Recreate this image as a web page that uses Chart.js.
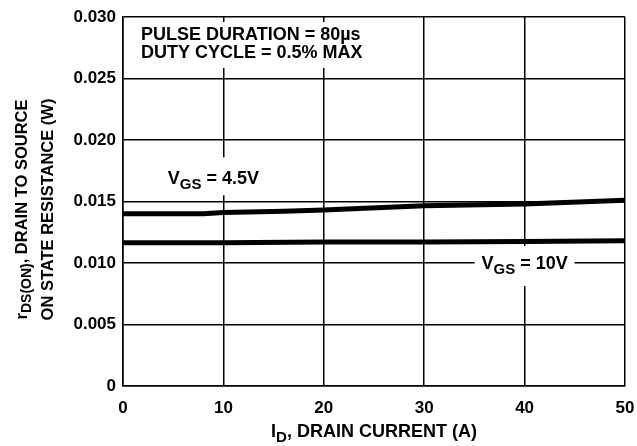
<!DOCTYPE html>
<html>
<head>
<meta charset="utf-8">
<script src="https://cdn.jsdelivr.net/npm/chart.js@4"></script>
<style>
    html, body { margin: 0; padding: 0; background: #fff; }
    #wrap { width: 637px; height: 446px; }
</style>
</head>
<body>
<div id="wrap"><canvas id="rdsChart" width="637" height="446"></canvas></div>
<script>
// drain current (A)
const currentA = [0, 8, 10, 16, 20, 30, 40, 50];
const rds45 = [0.0140, 0.0140, 0.0141, 0.0142, 0.0143, 0.01465, 0.0148, 0.0151];
const current10 = [0, 10, 20, 30, 40, 50];
const rds10 = [0.01165, 0.01165, 0.0117, 0.0117, 0.01175, 0.0118];
const xTicks = [0, 10, 20, 30, 40, 50];
const yTicks = [0, 0.005, 0.010, 0.015, 0.020, 0.025, 0.030];

const FONT = '"Liberation Sans", Arial, sans-serif';

// draw text made of pieces, some of them subscript
function drawParts(ctx, parts, x, y, size, align) {
    const subSize = Math.round(size * 0.82);
    let total = 0;
    parts.forEach(p => {
        ctx.font = 'bold ' + (p.sub ? subSize : size) + 'px ' + FONT;
        total += ctx.measureText(p.t).width;
    });
    let cx = align === 'left' ? x : x - total / 2;
    ctx.textBaseline = 'middle';
    ctx.textAlign = 'left';
    parts.forEach(p => {
        ctx.font = 'bold ' + (p.sub ? subSize : size) + 'px ' + FONT;
        ctx.fillText(p.t, cx, p.sub ? y + size * 0.3 : y);
        cx += ctx.measureText(p.t).width;
    });
    return total;
}

function whiteBox(ctx, x, y, w, h) {
    ctx.fillStyle = '#fff';
    ctx.fillRect(x, y, w, h);
    ctx.fillStyle = '#000';
}

const labelsPlugin = {
    id: 'labels',
    beforeDatasetsDraw(chart) {
        const ctx = chart.ctx;
        const xs = chart.scales.x, ys = chart.scales.y;
        ctx.save();
        ctx.fillStyle = '#000';

        // test conditions
        whiteBox(ctx, xs.left + 8, ys.top + 5, 250, 46);
        ctx.font = 'bold 18px ' + FONT;
        ctx.textAlign = 'left';
        ctx.textBaseline = 'middle';
        ctx.fillText('PULSE DURATION = 80\u00b5s', xs.left + 18, ys.top + 18);
        ctx.fillText('DUTY CYCLE = 0.5% MAX', xs.left + 18, ys.top + 36);

        // VGS = 4.5V
        let cx = xs.getPixelForValue(9), cy = ys.getPixelForValue(0.0168);
        whiteBox(ctx, cx - 56, cy - 22, 112, 38);
        drawParts(ctx, [{t: 'V'}, {t: 'GS', sub: true}, {t: ' = 4.5V'}], cx, cy, 18, 'center');

        // VGS = 10V
        cx = xs.getPixelForValue(40); cy = ys.getPixelForValue(0.010);
        whiteBox(ctx, cx - 50, cy - 17, 100, 40);
        drawParts(ctx, [{t: 'V'}, {t: 'GS', sub: true}, {t: ' = 10V'}], cx, cy + 1, 18, 'center');

        ctx.restore();
    },
    afterDraw(chart) {
        const ctx = chart.ctx;
        const xs = chart.scales.x, ys = chart.scales.y;
        const midY = (ys.top + ys.bottom) / 2 + 8;
        ctx.save();
        ctx.fillStyle = '#000';
        // y title, two lines
        ctx.translate(22, midY);
        ctx.rotate(-Math.PI / 2);
        drawParts(ctx, [{t: 'r'}, {t: 'DS(ON)', sub: true}, {t: ', DRAIN TO SOURCE'}], 0, 0, 16.5, 'center');
        ctx.restore();
        ctx.save();
        ctx.fillStyle = '#000';
        ctx.translate(48, midY);
        ctx.rotate(-Math.PI / 2);
        drawParts(ctx, [{t: 'ON STATE RESISTANCE (W)'}], 0, 0, 16.5, 'center');
        ctx.restore();
        // x title
        ctx.save();
        ctx.fillStyle = '#000';
        drawParts(ctx, [{t: 'I'}, {t: 'D', sub: true}, {t: ', DRAIN CURRENT (A)'}], (xs.left + xs.right) / 2, 432, 18, 'center');
        ctx.restore();
    }
};

const rdsCtx = document.getElementById('rdsChart').getContext('2d');
const rdsChart = new Chart(rdsCtx, {
    type: 'line',
    data: {
        datasets: [{
            label: 'VGS = 4.5V',
            data: currentA.map((x, i) => ({x: x, y: rds45[i]})),
            borderColor: '#000',
            borderWidth: 5,
            pointRadius: 0,
            tension: 0
        }, {
            label: 'VGS = 10V',
            data: current10.map((x, i) => ({x: x, y: rds10[i]})),
            borderColor: '#000',
            borderWidth: 5,
            pointRadius: 0,
            tension: 0
        }]
    },
    options: {
        responsive: false,
        animation: false,
        layout: {
            padding: {left: 0, top: 17, right: 12, bottom: 0}
        },
        plugins: {
            legend: {display: false},
            tooltip: {enabled: false}
        },
        scales: {
            x: {
                type: 'linear',
                min: 0,
                max: 50,
                afterBuildTicks: axis => { axis.ticks = xTicks.map(v => ({value: v})); },
                afterFit: axis => {
                    axis.height = 60;
                    axis.paddingLeft = 0;
                    axis.paddingRight = 0;
                },
                grid: {color: '#000', lineWidth: 1.5, drawTicks: false},
                border: {color: '#000', width: 1.5},
                ticks: {
                    color: '#000',
                    padding: 12,
                    font: {family: FONT, size: 17, weight: 'bold'},
                    maxRotation: 0
                }
            },
            y: {
                type: 'linear',
                min: 0,
                max: 0.030,
                afterBuildTicks: axis => { axis.ticks = yTicks.map(v => ({value: v})); },
                afterFit: axis => {
                    axis.width = 123;
                    axis.paddingTop = 0;
                    axis.paddingBottom = 0;
                },
                grid: {color: '#000', lineWidth: 1.5, drawTicks: false},
                border: {color: '#000', width: 1.5},
                ticks: {
                    color: '#000',
                    padding: 7,
                    font: {family: FONT, size: 17, weight: 'bold'},
                    callback: v => v === 0 ? '0' : v.toFixed(3)
                }
            }
        }
    },
    plugins: [labelsPlugin]
});
</script>
</body>
</html>
